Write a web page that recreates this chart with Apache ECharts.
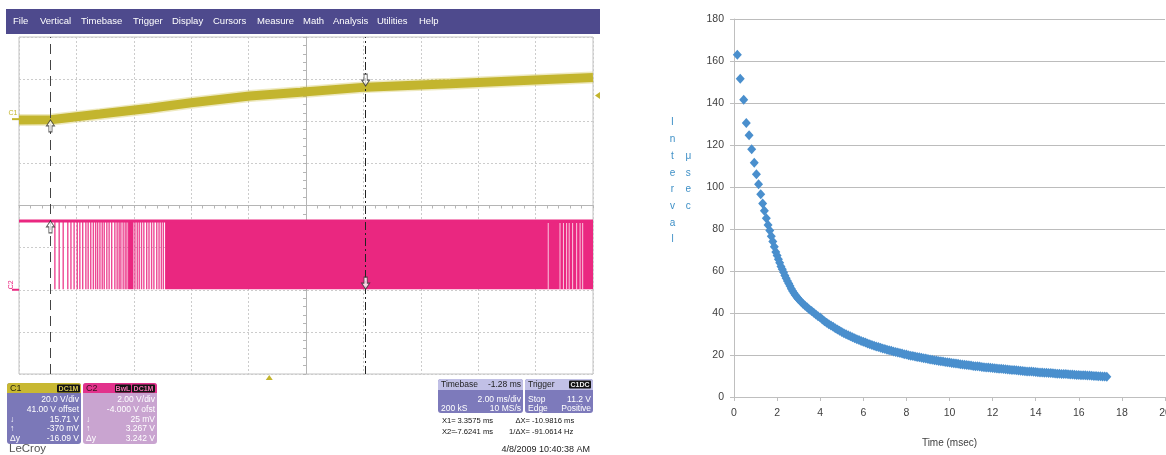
<!DOCTYPE html>
<html><head><meta charset="utf-8">
<script src="https://cdn.jsdelivr.net/npm/echarts@6/dist/echarts.min.js"></script>
<style>html,body{margin:0;padding:0;background:#fff}#c{width:1166px;height:455px}</style>
</head><body><div id="c"></div>
<script>
// ================= DATA =================
// Right chart: pulse interval (usec) vs time (msec)
const intervalPoints = [
 [0.155,163.0],[0.29,151.5],[0.45,141.5],[0.57,130.5],[0.70,124.7],[0.82,118.0],[0.94,111.6],[1.04,106.1],[1.14,101.3],[1.24,96.5],
 [1.33,92.2],[1.41,88.7],[1.50,85.1],[1.58,81.9],
 [1.66,79.3],[1.73,76.6],[1.80,74.1],[1.87,71.6],[1.94,69.1],[2.00,67.4],[2.06,65.6],[2.12,63.9],[2.18,62.2],[2.24,60.8],
 [2.30,59.4],[2.36,57.9],[2.42,56.5],[2.48,55.2],[2.54,54.0],[2.60,52.8],[2.66,51.6],[2.72,50.5],[2.78,49.5],[2.84,48.6],
 [2.90,47.8],[2.96,47.0],
 [3.0,46.5],[3.1,45.5],[3.2,44.4],[3.3,43.5],[3.4,42.6],[3.5,41.7],[3.6,40.9],[3.7,40.1],[3.8,39.3],[3.9,38.5],[4.0,37.8],
 [4.1,36.9],[4.2,36.1],[4.3,35.4],[4.4,34.7],[4.5,34.0],[4.6,33.4],[4.7,32.7],[4.8,32.1],[4.9,31.5],[5.0,31.0],
 [5.1,30.4],[5.2,29.9],[5.3,29.4],[5.4,28.9],[5.5,28.4],[5.6,28.0],[5.7,27.5],[5.8,27.1],[5.9,26.7],[6.0,26.3],
 [6.1,25.9],[6.2,25.5],[6.3,25.1],[6.4,24.8],[6.5,24.4],[6.6,24.1],[6.7,23.8],[6.8,23.5],[6.9,23.1],[7.0,22.8],
 [7.1,22.5],[7.2,22.3],[7.3,22.0],[7.4,21.7],[7.5,21.4],[7.6,21.2],[7.7,20.9],[7.8,20.7],[7.9,20.4],[8.0,20.2],
 [8.1,19.9],[8.2,19.7],[8.3,19.5],[8.4,19.3],[8.5,19.1],[8.6,18.9],[8.7,18.7],[8.8,18.5],[8.9,18.3],[9.0,18.1],
 [9.1,17.9],[9.2,17.7],[9.3,17.5],[9.4,17.4],[9.5,17.2],[9.6,17.0],[9.7,16.9],[9.8,16.7],[9.9,16.5],[10.0,16.4],
 [10.1,16.2],[10.2,16.1],[10.3,15.9],[10.4,15.8],[10.5,15.6],[10.6,15.5],[10.7,15.4],[10.8,15.2],[10.9,15.1],[11.0,15.0],
 [11.1,14.8],[11.2,14.7],[11.3,14.6],[11.4,14.5],[11.5,14.3],[11.6,14.2],[11.7,14.1],[11.8,14.0],[11.9,13.9],[12.0,13.8],
 [12.1,13.7],[12.2,13.6],[12.3,13.5],[12.4,13.4],[12.5,13.3],[12.6,13.2],[12.7,13.1],[12.8,13.0],[12.9,12.9],[13.0,12.8],
 [13.1,12.7],[13.2,12.6],[13.3,12.5],[13.4,12.4],[13.5,12.3],[13.6,12.2],[13.7,12.1],[13.8,12.1],[13.9,12.0],[14.0,11.9],
 [14.1,11.8],[14.2,11.7],[14.3,11.7],[14.4,11.6],[14.5,11.5],[14.6,11.4],[14.7,11.4],[14.8,11.3],[14.9,11.2],[15.0,11.1],
 [15.1,11.1],[15.2,11.0],[15.3,10.9],[15.4,10.9],[15.5,10.8],[15.6,10.7],[15.7,10.7],[15.8,10.6],[15.9,10.5],[16.0,10.5],
 [16.1,10.4],[16.2,10.3],[16.3,10.3],[16.4,10.2],[16.5,10.2],[16.6,10.1],[16.7,10.0],[16.8,10.0],[16.9,9.9],[17.0,9.9],
 [17.1,9.8],[17.2,9.8],[17.3,9.7]
];
const yTitle1 = 'Interval';
const yTitle2 = 'μsec';
const xTitle = 'Time (msec)';

// Oscilloscope (time in ms, 2 ms/div, delay -1.28 ms; C1 20 V/div ofs 41 V; C2 2 V/div ofs -4 V)
const scopeTime = [-8.72, 11.28];
const c1Range = [-121, 39];
const c2Range = [-4, 12];
const c1Trace = [[-8.72,-0.4],[-7.62,-0.3],[-5.90,2.4],[-4.16,5.2],[-2.72,7.8],[-0.68,11.0],[1.08,12.8],[3.36,15.2],[6.30,16.8],[9.26,18.6],[11.28,19.8]];
const c2High = 3.267;
const c2Low = 0.025;
const c2Pulses = [-7.47,-7.32,-7.18,-7.02,-6.91,-6.80,-6.69,-6.60,-6.50,-6.39,-6.31,-6.22,-6.13,-6.05,-5.98,-5.90,-5.82,-5.75,
  -5.66,-5.58,-5.49,-5.38,-5.30,-5.23,-5.17,-5.09,-5.02,-4.96,-4.68,-4.60,-4.53,-4.45,-4.37,-4.27,-4.19,-4.10,-4.02,-3.92,-3.84,-3.76,-3.69];
const c2Blocks = [[-4.92,-4.73],[-3.63,11.28]];
const c2Gaps = [9.72,10.13,10.25,10.36,10.45,10.57,10.71,10.83,10.92];
const cursorX1 = 3.3575, cursorX2 = -7.6241;
const c1AtX1 = 15.71, c1AtX2 = -0.370, c2AtX1 = 0.025, c2AtX2 = 3.267;
const triggerLevel = 11.2, triggerTime = 0;
const menuItems = ['File','Vertical','Timebase','Trigger','Display','Cursors','Measure','Math','Analysis','Utilities','Help'];

// ================= CHART =================
const F = '"Liberation Sans", Arial, sans-serif';
const PINK = '#ea2780', YEL = '#c3b52e';
const chart = echarts.init(document.getElementById('c'), null, {width:1166, height:455});

function T(x,y,text,o){o=o||{};return {type:'text',x:x,y:y,silent:true,z:o.z||10,rotation:o.rot||0,
  style:{text:text,fill:o.fill||'#fff',font:(o.weight||'normal')+' '+(o.size||8.5)+'px '+F,textAlign:o.align||'left',textVerticalAlign:o.va||'middle',lineHeight:o.lh}};}
function R(x,y,w,h,fill,o){o=o||{};return {type:'rect',silent:true,z:o.z||9,shape:{x:x,y:y,width:w,height:h,r:o.r||0},style:{fill:fill,stroke:o.stroke||null,lineWidth:o.lw||1}};}

const menuX = [13,40,81,133,172,213,257,303,333,377,419];
const gfx = [];
gfx.push(R(6,9,594,25,'#4e4a8d'));
menuItems.forEach((m,i)=>gfx.push(T(menuX[i],21.5,m,{size:9.5})));

// C1 box
gfx.push(R(7,383,74,61,'#7b78b8',{r:3}));
gfx.push(R(7,383,74,10,'#c8b832',{r:[3,3,0,0]}));
gfx.push(T(10,388.5,'C1',{fill:'#2a2a10',size:9}));
gfx.push(R(57,384.5,23,8,'#141414',{r:1}));
gfx.push(T(68.5,388.7,'DC1M',{fill:'#d8c850',size:7,align:'center',weight:'bold'}));
[['20.0 V/div',400],['41.00 V offset',409.5],['15.71 V',419.5],['-370 mV',429],['-16.09 V',438.5]].forEach(r=>gfx.push(T(79,r[1],r[0],{align:'right'})));
[['↓',419.5],['↑',429],['Δy',438.5]].forEach(r=>gfx.push(T(10,r[1],r[0])));
// C2 box
gfx.push(R(83,383,74,61,'#c9a4d0',{r:3}));
gfx.push(R(83,383,74,10,'#e2328c',{r:[3,3,0,0]}));
gfx.push(T(86,388.5,'C2',{fill:'#3a1020',size:9}));
gfx.push(R(115,384.5,16,8,'#141414',{r:1}));
gfx.push(T(123,388.7,'BwL',{fill:'#f070b0',size:7,align:'center',weight:'bold'}));
gfx.push(R(132,384.5,23,8,'#141414',{r:1}));
gfx.push(T(143.5,388.7,'DC1M',{fill:'#f070b0',size:7,align:'center',weight:'bold'}));
[['2.00 V/div',400],['-4.000 V ofst',409.5],['25 mV',419.5],['3.267 V',429],['3.242 V',438.5]].forEach(r=>gfx.push(T(155,r[1],r[0],{align:'right'})));
[['↓',419.5],['↑',429],['Δy',438.5]].forEach(r=>gfx.push(T(86,r[1],r[0])));
// Timebase box
gfx.push(R(438,379,85,34,'#7d7abb',{r:3}));
gfx.push(R(438,379,85,11,'#c1c0e6',{r:[3,3,0,0]}));
gfx.push(T(441,384.5,'Timebase',{fill:'#222'}));
gfx.push(T(521,384.5,'-1.28 ms',{fill:'#222',align:'right'}));
gfx.push(T(521,399.5,'2.00 ms/div',{align:'right'}));
gfx.push(T(441,409,'200 kS'));
gfx.push(T(521,409,'10 MS/s',{align:'right'}));
// Trigger box
gfx.push(R(525,379,68,34,'#7d7abb',{r:3}));
gfx.push(R(525,379,68,11,'#c1c0e6',{r:[3,3,0,0]}));
gfx.push(T(528,384.5,'Trigger',{fill:'#222'}));
gfx.push(R(569,380.5,22,8,'#141414',{r:1}));
gfx.push(T(580,384.7,'C1DC',{fill:'#eee',size:7,align:'center',weight:'bold'}));
gfx.push(T(528,399.5,'Stop'));
gfx.push(T(591,399.5,triggerLevel.toFixed(1)+' V',{align:'right'}));
gfx.push(T(528,409,'Edge'));
gfx.push(T(591,409,'Positive',{align:'right'}));
// cursor readouts
const dX = cursorX2 - cursorX1;
const RO = {fill:'#111',size:7.6};
gfx.push(T(442,420.5,'X1=',RO));
gfx.push(T(493,420.5,cursorX1.toFixed(4)+' ms',Object.assign({align:'right'},RO)));
gfx.push(T(530,420.5,'ΔX=',Object.assign({align:'right'},RO)));
gfx.push(T(532,420.5,dX.toFixed(4)+' ms',RO));
gfx.push(T(442,432,'X2=',RO));
gfx.push(T(493,432,cursorX2.toFixed(4)+' ms',Object.assign({align:'right'},RO)));
gfx.push(T(530,432,'1/ΔX=',Object.assign({align:'right'},RO)));
gfx.push(T(532,432,(1000/dX).toFixed(4)+' Hz',RO));
gfx.push(T(590,450,'4/8/2009 10:40:38 AM',{fill:'#222',size:9,align:'right'}));
gfx.push(T(9,449,'LeCroy',{fill:'#555',size:11.5}));
// Excel y title (stacked letters)
gfx.push(T(672.5,114.3,yTitle1.split('').join('\n'),{fill:'#3d8fc6',size:10,align:'center',va:'top',lh:16.7}));
gfx.push(T(688.3,147.7,yTitle2.split('').join('\n'),{fill:'#3d8fc6',size:10,align:'center',va:'top',lh:16.7}));

const upArrow = 'path://M5,0 L10,6 L7,6 L7,12 L3,12 L3,6 L0,6 Z';
const downArrow = 'path://M5,12 L10,6 L7,6 L7,0 L3,0 L3,6 L0,6 Z';

const scopeDivAxisX = {gridIndex:0,type:'value',min:-5,max:5,interval:1,
  axisLine:{onZero:true,lineStyle:{color:'#b5b5b5'}},axisTick:{show:true,length:3,lineStyle:{color:'#b5b5b5'}},
  minorTick:{show:true,splitNumber:5,length:3,lineStyle:{color:'#b5b5b5'}},axisLabel:{show:false},
  splitLine:{show:true,lineStyle:{color:'#cccccc',type:[2,2]}}};
const scopeDivAxisY = Object.assign({}, scopeDivAxisX, {min:-4,max:4});

const option = {
  animation:false,
  backgroundColor:'#fff',
  grid:[
    {left:19,top:37,width:574,height:337,show:true,borderColor:'#c2c2c2',borderWidth:1,containLabel:false,outerBoundsMode:'none'},
    {left:734,top:19,width:431,height:378,containLabel:false,outerBoundsMode:'none'}
  ],
  xAxis:[
    scopeDivAxisX,
    {gridIndex:1,type:'value',min:0,max:20,interval:2,
     axisLine:{show:true,onZero:false,lineStyle:{color:'#bfbfbf'}},axisTick:{show:true,length:4,lineStyle:{color:'#bfbfbf'}},
     axisLabel:{color:'#404040',fontSize:10.5,fontFamily:F,margin:11},splitLine:{show:false},
     name:xTitle,nameLocation:'middle',nameGap:41,nameTextStyle:{color:'#404040',fontSize:10,fontFamily:F}},
    {gridIndex:0,type:'value',min:scopeTime[0],max:scopeTime[1],show:false}
  ],
  yAxis:[
    scopeDivAxisY,
    {gridIndex:1,type:'value',min:0,max:180,interval:20,
     axisLine:{show:true,onZero:false,lineStyle:{color:'#bfbfbf'}},axisTick:{show:true,length:4,lineStyle:{color:'#bfbfbf'}},
     axisLabel:{color:'#404040',fontSize:10.5,fontFamily:F,margin:10},
     splitLine:{show:true,lineStyle:{color:'#bcbcbc',width:1}}},
    {gridIndex:0,type:'value',min:c1Range[0],max:c1Range[1],show:false},
    {gridIndex:0,type:'value',min:c2Range[0],max:c2Range[1],show:false}
  ],
  series:[
    {type:'line',xAxisIndex:2,yAxisIndex:2,data:c1Trace,symbol:'none',silent:true,
     lineStyle:{color:'#cdbf4a',width:12,opacity:0.35}},
    {type:'line',xAxisIndex:2,yAxisIndex:2,data:c1Trace,symbol:'none',silent:true,
     lineStyle:{color:YEL,width:9}},
    {type:'line',xAxisIndex:2,yAxisIndex:3,data:[[scopeTime[0],c2High],[scopeTime[1],c2High]],symbol:'none',silent:true,
     lineStyle:{color:PINK,width:3},
     markLine:{silent:true,symbol:['none','none'],label:{show:false},
       data:[{xAxis:cursorX2,lineStyle:{color:'#444',width:1,type:[10,6]}},
             {xAxis:cursorX1,lineStyle:{color:'#222',width:1,type:[8,3,2,3]}}]}},
    {type:'custom',xAxisIndex:2,yAxisIndex:3,silent:true,data:c2Pulses.map(t=>[t,c2High]),encode:{x:0,y:1},
     renderItem:function(p,api){const t=api.value(0);const a=api.coord([t,c2High]);const b=api.coord([t,c2Low]);
       return {type:'rect',shape:{x:a[0]-0.7,y:a[1],width:1.4,height:b[1]-a[1]},style:{fill:PINK,opacity:0.85}};}},
    {type:'custom',xAxisIndex:2,yAxisIndex:3,silent:true,data:c2Blocks,encode:{x:[0,1]},
     renderItem:function(p,api){const a=api.coord([api.value(0),c2High]);const b=api.coord([api.value(1),c2Low]);
       return {type:'rect',shape:{x:a[0],y:a[1],width:b[0]-a[0],height:b[1]-a[1]},style:{fill:PINK}};}},
    {type:'custom',xAxisIndex:2,yAxisIndex:3,silent:true,data:c2Gaps.map(t=>[t,c2High]),encode:{x:0,y:1},
     renderItem:function(p,api){const t=api.value(0);const a=api.coord([t,c2High]);const b=api.coord([t,c2Low]);
       return {type:'rect',shape:{x:a[0]-0.5,y:a[1]+2,width:1,height:b[1]-a[1]-2},style:{fill:'#fff',opacity:0.75}};}},
    {type:'scatter',xAxisIndex:2,yAxisIndex:2,silent:true,clip:false,
     data:[{value:[cursorX2,c1AtX2],symbol:upArrow,symbolOffset:[0,6]},{value:[cursorX1,c1AtX1],symbol:downArrow,symbolOffset:[0,-6]}],
     symbolSize:[8,12],itemStyle:{color:'#fff',borderColor:'#333',borderWidth:1},z:5},
    {type:'scatter',xAxisIndex:2,yAxisIndex:3,silent:true,clip:false,
     data:[{value:[cursorX2,c2AtX2],symbol:upArrow,symbolOffset:[0,6]},{value:[cursorX1,c2AtX1],symbol:downArrow,symbolOffset:[0,-6]}],
     symbolSize:[8,12],itemStyle:{color:'#fff',borderColor:'#333',borderWidth:1},z:5},
    {type:'scatter',xAxisIndex:1,yAxisIndex:1,data:intervalPoints,symbol:'diamond',symbolSize:[9,10],silent:true,
     itemStyle:{color:'#4a8fcd',opacity:1}}
  ],
  graphic:gfx
};
chart.setOption(option);

// scope markers placed through the scope's own scales
const p1 = chart.convertToPixel({xAxisIndex:2,yAxisIndex:2},[scopeTime[1],triggerLevel]);
const p2 = chart.convertToPixel({xAxisIndex:2,yAxisIndex:2},[triggerTime,c1Range[0]]);
const g1 = chart.convertToPixel({xAxisIndex:2,yAxisIndex:2},[scopeTime[0],0]);
const g2 = chart.convertToPixel({xAxisIndex:2,yAxisIndex:3},[scopeTime[0],0]);
const marks = [
  {type:'polygon',silent:true,z:11,shape:{points:[[p1[0]+2,p1[1]],[p1[0]+7,p1[1]-3.5],[p1[0]+7,p1[1]+3.5]]},style:{fill:YEL}},
  {type:'polygon',silent:true,z:11,shape:{points:[[p2[0],p2[1]+1],[p2[0]-3.5,p2[1]+6],[p2[0]+3.5,p2[1]+6]]},style:{fill:YEL}},
  {type:'line',silent:true,z:11,shape:{x1:g1[0]-7,y1:g1[1],x2:g1[0],y2:g1[1]},style:{stroke:YEL,lineWidth:2}},
  T(g1[0]-6,g1[1]-6,'C1',{fill:YEL,size:7,align:'center'}),
  {type:'line',silent:true,z:11,shape:{x1:g2[0]-7,y1:g2[1],x2:g2[0],y2:g2[1]},style:{stroke:PINK,lineWidth:2}},
  T(g2[0]-8,g2[1]-5,'C2',{fill:PINK,size:7,align:'center',rot:Math.PI/2})
];
chart.setOption({graphic:gfx.concat(marks)});
</script></body></html>
